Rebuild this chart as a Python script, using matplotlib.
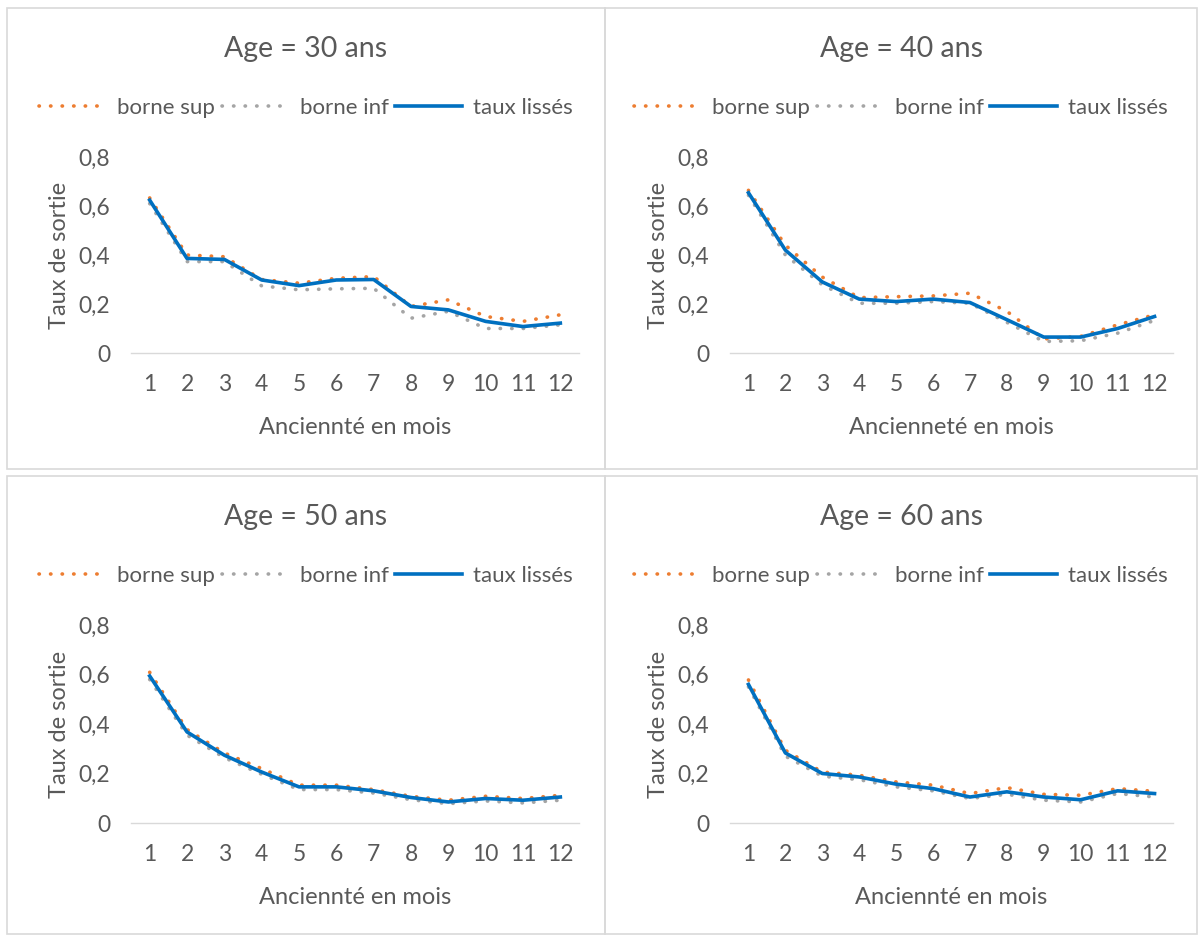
import matplotlib
matplotlib.use("Agg")
import matplotlib.pyplot as plt
from matplotlib.lines import Line2D
from matplotlib.patches import Rectangle
from matplotlib.ticker import FuncFormatter

plt.rcParams["font.family"] = ["Lato", "DejaVu Sans"]

months = list(range(1, 13))
ages = [30, 40, 50, 60]
xlabels = ["Anciennté en mois", "Ancienneté en mois", "Anciennté en mois", "Anciennté en mois"]

sup_30 = [0.633, 0.400, 0.393, 0.300, 0.285, 0.305, 0.312, 0.190, 0.217, 0.149, 0.129, 0.156]
inf_30 = [0.610, 0.373, 0.373, 0.274, 0.258, 0.262, 0.264, 0.142, 0.170, 0.100, 0.100, 0.115]
lis_30 = [0.624, 0.386, 0.382, 0.298, 0.275, 0.298, 0.300, 0.190, 0.176, 0.129, 0.108, 0.122]

sup_40 = [0.664, 0.440, 0.310, 0.226, 0.230, 0.233, 0.244, 0.170, 0.057, 0.068, 0.115, 0.156]
inf_40 = [0.644, 0.400, 0.278, 0.203, 0.203, 0.210, 0.203, 0.125, 0.047, 0.050, 0.081, 0.133]
lis_40 = [0.654, 0.420, 0.290, 0.220, 0.210, 0.220, 0.206, 0.136, 0.065, 0.065, 0.100, 0.149]

sup_50 = [0.609, 0.378, 0.283, 0.220, 0.153, 0.153, 0.135, 0.108, 0.092, 0.108, 0.099, 0.112]
inf_50 = [0.580, 0.355, 0.264, 0.197, 0.135, 0.135, 0.121, 0.094, 0.078, 0.089, 0.081, 0.092]
lis_50 = [0.594, 0.368, 0.274, 0.206, 0.146, 0.146, 0.130, 0.103, 0.085, 0.099, 0.092, 0.105]

sup_60 = [0.578, 0.294, 0.206, 0.193, 0.166, 0.153, 0.119, 0.143, 0.116, 0.112, 0.139, 0.128]
inf_60 = [0.550, 0.270, 0.189, 0.175, 0.146, 0.130, 0.099, 0.116, 0.092, 0.085, 0.119, 0.105]
lis_60 = [0.560, 0.283, 0.200, 0.186, 0.157, 0.139, 0.105, 0.126, 0.105, 0.094, 0.130, 0.119]

panels = [
    (sup_30, inf_30, lis_30),
    (sup_40, inf_40, lis_40),
    (sup_50, inf_50, lis_50),
    (sup_60, inf_60, lis_60),
]

ORANGE = "#ED7D31"
GREY = "#A5A5A5"
BLUE = "#0070C0"
TEXT = "#595959"
AXIS = "#D9D9D9"
W, H = 1198, 935

fig = plt.figure(figsize=(W / 100, H / 100), dpi=100)

# panel frames (left, top, right, bottom in pixels)
frames = [(7, 8, 605, 469), (605, 8, 1197, 469), (7, 476, 605, 934), (605, 476, 1197, 934)]
for l, t, r, b in frames:
    fig.patches.append(Rectangle((l / W, 1 - b / H), (r - l) / W, (b - t) / H,
                                 transform=fig.transFigure, fill=False,
                                 edgecolor="#D9D9D9", linewidth=1.2))

# axes boxes in pixels: left, right, top (0.8), bottom (0)
boxes = [(131, 579, 157, 353), (730, 1173, 157, 353),
         (131, 579, 625, 823), (730, 1173, 625, 823)]

dotted = (0, (0.1, 3.1))
LW = 2.6

for i, ((sup, inf, lis), (l, r, t, b)) in enumerate(zip(panels, boxes)):
    ax = fig.add_axes([l / W, 1 - b / H, (r - l) / W, (b - t) / H])
    ax.plot(months, sup, color=ORANGE, lw=LW, linestyle=dotted, dash_capstyle="round")
    ax.plot(months, inf, color=GREY, lw=LW, linestyle=dotted, dash_capstyle="round")
    ax.plot(months, lis, color=BLUE, lw=LW, solid_joinstyle="round")
    ax.set_xlim(0.5, 12.5)
    ax.set_ylim(0, 0.8)
    ax.set_xticks(months)
    ax.set_yticks([0, 0.2, 0.4, 0.6, 0.8])
    ax.yaxis.set_major_formatter(FuncFormatter(lambda v, p: f"{v:g}".replace(".", ",")))
    ax.tick_params(length=0, labelsize=16.5, colors=TEXT)
    ax.tick_params(axis="x", pad=15)
    ax.tick_params(axis="y", pad=15)
    for s in ["top", "right", "left"]:
        ax.spines[s].set_visible(False)
    ax.spines["bottom"].set_color(AXIS)
    ax.spines["bottom"].set_linewidth(1.0)
    ax.patch.set_alpha(0)
    for ln in ax.lines:
        ln.set_clip_on(False)

    ax.set_ylabel("Taux de sortie", fontsize=17, color=TEXT, labelpad=6)
    ax.set_xlabel(xlabels[i], fontsize=17, color=TEXT, labelpad=16)

    fl, ft, fr, fb = frames[i]
    cx = (fl + fr) / 2 / W
    fig.text(cx, 1 - (t - 108) / H, f"Age = {ages[i]} ans", ha="center", va="center",
             fontsize=20.5, color=TEXT)

    handles = [
        Line2D([], [], color=ORANGE, lw=LW, linestyle=dotted, dash_capstyle="round"),
        Line2D([], [], color=GREY, lw=LW, linestyle=dotted, dash_capstyle="round"),
        Line2D([], [], color=BLUE, lw=LW),
    ]
    fig.legend(handles, ["borne sup", "borne inf", "taux lissés"], ncol=3,
               loc="center", bbox_to_anchor=(cx, 1 - (t - 49) / H),
               frameon=False, fontsize=16, labelcolor=TEXT,
               handlelength=3.0, handletextpad=0.5, columnspacing=0.3)

fig.savefig("out.png", dpi=100)
